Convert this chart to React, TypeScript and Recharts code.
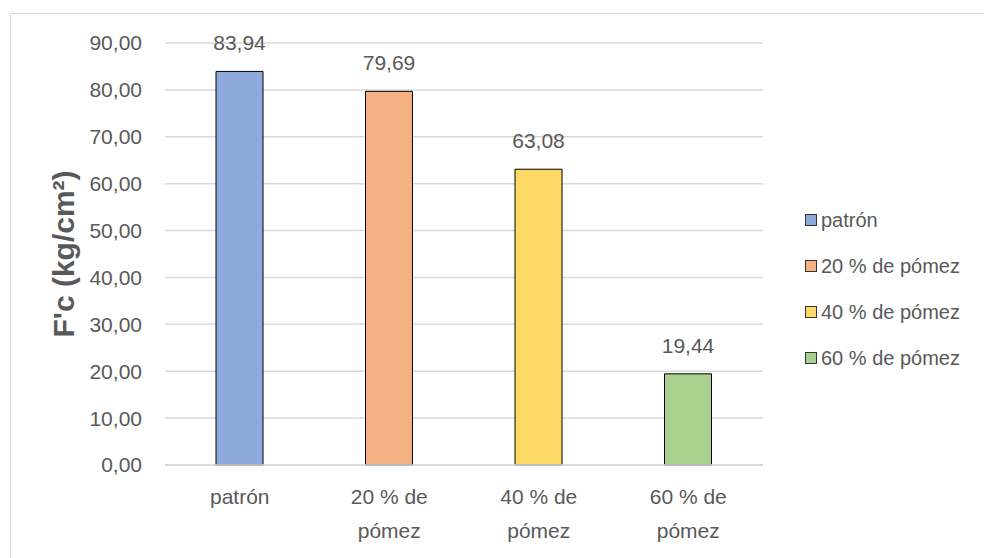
import React from "react";
import { BarChart, Bar, XAxis, YAxis, CartesianGrid, Cell, LabelList } from "recharts";

const categories = ["patrón", "20 % de pómez", "40 % de pómez", "60 % de pómez"];
const tickLines = [["patrón"], ["20 % de", "pómez"], ["40 % de", "pómez"], ["60 % de", "pómez"]];
const values = [83.94, 79.69, 63.08, 19.44];
const colors = ["#8EA9DB", "#F4B183", "#FFD966", "#A9D18E"];
const yTicks = [0, 10, 20, 30, 40, 50, 60, 70, 80, 90];
const yLabel = "F'c (kg/cm²)";

const data = categories.map((c, i) => ({ name: c, value: values[i], idx: i }));

const FONT = "'Liberation Sans', Arial, sans-serif";
const TEXT = "#595959";

const fmt = (v: number) => v.toFixed(2).replace(".", ",");

const XTick = (props: any) => {
  const { x, y, index } = props;
  const lines = tickLines[index] || [String(props.payload?.value)];
  return (
    <g>
      {lines.map((l: string, i: number) => (
        <text key={i} x={x} y={y + 31 + i * 34} textAnchor="middle" fill={TEXT} fontSize={21} fontFamily={FONT}>
          {l}
        </text>
      ))}
    </g>
  );
};

const ChartLegend = () => (
  <div style={{ position: "absolute", left: 805, top: 197, fontFamily: FONT, fontSize: 20, color: TEXT }}>
    {categories.map((c, i) => (
      <div key={c} style={{ display: "flex", alignItems: "center", height: 46 }}>
        <div style={{ width: 10, height: 10, background: colors[i], border: "1px solid #333", marginRight: 4 }} />
        <span style={{ whiteSpace: "nowrap" }}>{c}</span>
      </div>
    ))}
  </div>
);

export default function App() {
  return (
    <div style={{ position: "absolute", left: 0, top: 0, width: 984, height: 558, overflow: "hidden", background: "#fff" }}>
      <div style={{ position: "absolute", left: 10, top: 13, width: 1100, height: 700, border: "1.5px solid #d9d9d9" }} />
      <BarChart
        width={984}
        height={558}
        data={data}
        margin={{ top: 43, right: 221, bottom: 33, left: 85 }}
      >
        <CartesianGrid vertical={false} stroke="#d9d9d9" strokeWidth={1.5} />
        <XAxis
          dataKey="name"
          height={60}
          axisLine={{ stroke: "#d9d9d9", strokeWidth: 1.5 }}
          tickLine={false}
          tick={<XTick />}
          interval={0}
        />
        <YAxis
          width={80}
          domain={[0, 90]}
          ticks={yTicks}
          tickFormatter={fmt}
          axisLine={false}
          tickLine={false}
          tickSize={0}
          tickMargin={23}
          tick={{ fill: TEXT, fontSize: 21, fontFamily: FONT }}
          label={{
            value: yLabel,
            angle: -90,
            position: "insideLeft",
            dx: -27,
            style: { textAnchor: "middle", fill: TEXT, fontSize: 30, fontWeight: "bold", fontFamily: FONT },
          }}
        />
        <Bar dataKey="value" barSize={47} stroke="#000" strokeWidth={1} isAnimationActive={false}>
          {data.map((d, i) => (
            <Cell key={i} fill={colors[i]} />
          ))}
          <LabelList
            dataKey="value"
            position="top"
            offset={21}
            formatter={(v: any) => fmt(Number(v))}
            style={{ fill: TEXT, fontSize: 21, fontFamily: FONT }}
          />
        </Bar>
      </BarChart>
      <ChartLegend />
    </div>
  );
}
